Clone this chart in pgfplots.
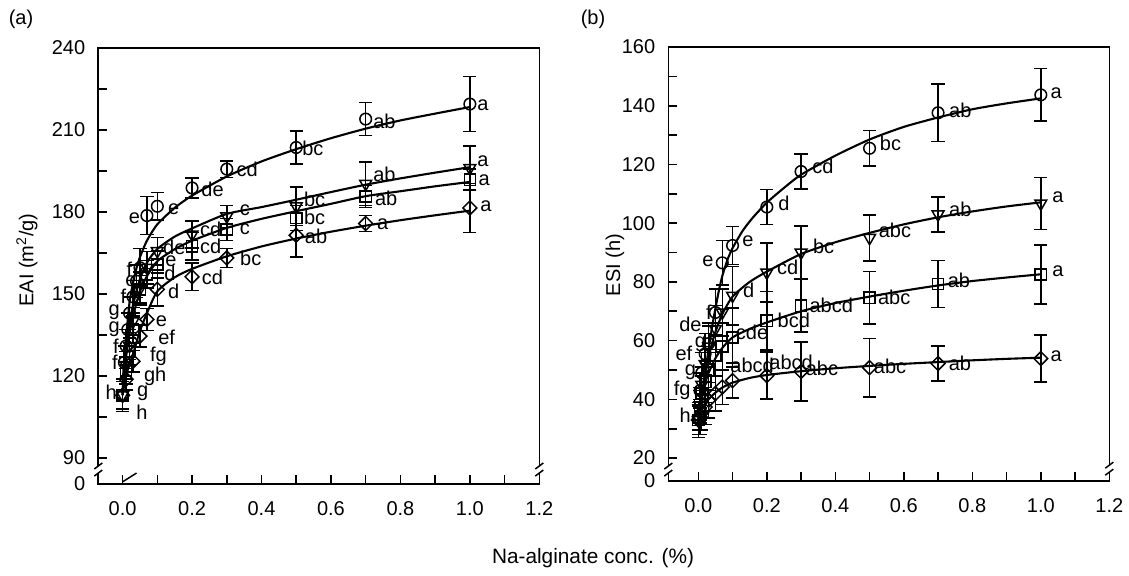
\documentclass[border=0pt]{standalone}
\usepackage{fontspec}
\setmainfont{Liberation Sans}
\usepackage{pgfplots}
\usepackage{pgfplotstable}
\pgfplotsset{compat=1.18}

% ---------------- EAI (a) ----------------
\pgfplotstableread{
x y e
0 113 6
0.005 125 6
0.01 131 6
0.015 137 6
0.02 143 6
0.03 149 6
0.04 154.7 6
0.05 159.6 7
0.07 178.7 7
0.1 182.1 5
0.2 188.8 3.7
0.3 195.7 3
0.5 203.6 6
0.7 214 6
1.0 219.5 10
}\LCirc
\pgfplotstableread{
x y e
0 113 5
0.01 124 5
0.02 131 5
0.03 140 5
0.05 152 6
0.07 159.6 6
0.1 165.7 5
0.2 171.8 5
0.3 178.4 4
0.5 182.1 7
0.7 190.3 8
1.0 196.1 8
}\LTri
\pgfplotstableread{
x y e
0 113 5
0.01 122 5
0.02 129 5
0.03 137 5
0.05 151.7 5
0.07 157.2 5
0.1 160.8 5
0.2 167.5 5
0.3 173.6 4
0.5 177.8 4.5
0.7 185.7 4
1.0 191.8 4
}\LSq
\pgfplotstableread{
x y e
0 113 5
0.01 118.8 4
0.03 125.4 4
0.05 134.6 4
0.07 140.7 4
0.1 151.7 6
0.2 156.3 5
0.3 163.2 3.5
0.5 171.5 8
0.7 175.8 3
1.0 181.5 9
}\LDia
\pgfplotstableread{
x y
0 113
0.002 121
0.005 127
0.01 134
0.02 147
0.03 154
0.04 159.5
0.05 163.5
0.07 169.5
0.1 175.5
0.15 181.5
0.2 186
0.3 193
0.4 198.5
0.5 203
0.6 207
0.7 210.5
0.8 213.5
0.9 216
1.0 218.4
}\LCircFit
\pgfplotstableread{
x y
0 113
0.002 118
0.005 123
0.01 130
0.02 139
0.03 146
0.05 155.5
0.07 161.5
0.1 166.5
0.15 171
0.2 174
0.3 179.3
0.4 181.8
0.5 184.5
0.6 187.3
0.7 190
0.8 192.3
0.9 194.4
1.0 196.4
}\LTriFit
\pgfplotstableread{
x y
0 113
0.002 117
0.005 121.5
0.01 127
0.02 135.5
0.03 142
0.05 151
0.07 156.5
0.1 162
0.15 166.4
0.2 169.5
0.3 174.2
0.4 177.5
0.5 180.3
0.6 183
0.7 185.8
0.8 187.6
0.9 189.4
1.0 191
}\LSqFit
\pgfplotstableread{
x y
0 113
0.002 115
0.005 117
0.01 120
0.02 124.5
0.03 128
0.05 136.5
0.07 143
0.1 151
0.15 156.1
0.2 159.2
0.3 163.8
0.4 167.4
0.5 170.3
0.6 172.8
0.7 175
0.8 177
0.9 178.8
1.0 180.5
}\LDiaFit

% ---------------- ESI (b) ----------------
\pgfplotstableread{
x y e
0 33.5 4
0.005 43 6
0.01 49 7
0.02 55.5 7
0.03 59 7
0.05 69.6 8
0.07 86.5 7.6
0.1 92.4 6.4
0.2 105.5 5.9
0.3 117.6 6
0.5 125.5 6
0.7 137.6 9.8
1.0 143.7 8.9
}\RCirc
\pgfplotstableread{
x y e
0 33 5
0.005 38 5
0.01 45 6
0.02 52 6
0.03 58 7
0.05 64 8
0.07 69.6 8
0.1 75.3 10
0.2 83.2 10
0.3 90 9
0.5 95 7.8
0.7 103 6
1.0 106.7 8.8
}\RTri
\pgfplotstableread{
x y e
0 33 5
0.005 38 6
0.01 42 6
0.02 46 7
0.03 50 7
0.05 55 7
0.07 58 8
0.1 61.1 10
0.2 66.8 10
0.3 71.9 9
0.5 74.6 9
0.7 79.3 8
1.0 82.5 10
}\RSq
\pgfplotstableread{
x y e
0 33 6
0.005 34 6
0.01 35.5 6
0.02 37.4 6
0.03 39.7 6
0.05 42 6
0.07 44.2 6
0.1 46.4 6
0.2 48.1 8
0.3 49.5 10
0.5 50.8 10
0.7 52.2 6
1.0 53.9 8
}\RDia
\pgfplotstableread{
x y
0 33.5
0.005 37.5
0.01 41
0.02 49
0.03 57
0.04 64.5
0.05 71
0.06 77
0.07 82
0.085 87.5
0.1 91.5
0.13 97.5
0.16 102
0.2 107
0.25 112
0.3 116.5
0.4 123
0.5 128.5
0.6 132.8
0.7 136
0.8 138.8
0.9 140.8
1.0 142.5
}\RCircFit
\pgfplotstableread{
x y
0 33
0.006 36.3
0.01 40
0.016 45.5
0.02 48.5
0.03 54.5
0.04 59
0.05 63
0.07 69
0.1 75
0.15 80
0.2 83.5
0.3 89.5
0.4 93.5
0.5 96.7
0.6 99.6
0.7 102
0.8 104
0.9 105.7
1.0 107.1
}\RTriFit
\pgfplotstableread{
x y
0 33
0.005 37
0.01 40.5
0.02 45.5
0.03 49
0.05 54
0.07 57.5
0.1 61.1
0.15 64
0.2 66.2
0.3 70
0.4 72.8
0.5 75
0.6 77
0.7 78.8
0.8 80.3
0.9 81.5
1.0 82.6
}\RSqFit
\pgfplotstableread{
x y
0 33
0.005 34.8
0.01 36.2
0.02 38.3
0.03 40
0.05 42.3
0.07 44
0.1 45.7
0.15 47.3
0.2 48.3
0.3 49.6
0.4 50.6
0.5 51.4
0.6 52.1
0.7 52.7
0.8 53.3
0.9 53.8
1.0 54.2
}\RDiaFit

\pgfplotsset{
  panel/.style={
    scale only axis, width=220.5pt,
    axis line style={line width=0.8pt},
    tick style={black, line width=0.8pt},
    major tick length=4.5pt, minor tick length=4.5pt,
    tick align=inside, xtick pos=left, ytick pos=left,
    xmax=1.2,
    xtick={0,0.2,0.4,0.6,0.8,1.0,1.2},
    minor xtick={0.1,0.3,0.5,0.7,0.9,1.1},
    xticklabel style={/pgf/number format/fixed, /pgf/number format/fixed zerofill,
      /pgf/number format/precision=1, yshift=-5pt},
    yticklabel style={xshift=-3pt},
    /pgf/number format/assume math mode=true,
    extra y tick style={major tick length=0pt},
    clip=false,
  },
  fitline/.style={black, line width=1.05pt, no markers, smooth, tension=0.4},
  pts/.style={black, only marks,
    error bars/y dir=both, error bars/y explicit,
    error bars/error bar style={line width=0.75pt, black},
    error bars/error mark options={black, line width=0.75pt, mark size=3.3pt, rotate=90}},
}
\newcommand{\lb}[3]{\node[inner sep=0pt] at (axis cs:#1,#2) {#3};}
\newcommand{\brk}[3]{% x, y1, y2 (data)
  \fill[white] ([xshift=-1.2pt]axis cs:#1,#2) rectangle ([xshift=1.2pt]axis cs:#1,#3);
  \draw[line width=0.75pt] ([xshift=-2pt,yshift=-1.5pt]axis cs:#1,#2) -- ([xshift=2pt,yshift=1.5pt]axis cs:#1,#2);
  \draw[line width=0.75pt] ([xshift=-2pt,yshift=-1.5pt]axis cs:#1,#3) -- ([xshift=2pt,yshift=1.5pt]axis cs:#1,#3);}

\begin{document}
\fontsize{10}{12}\selectfont
\begin{tikzpicture}
\path[use as bounding box] (0pt,0pt) rectangle (564.5pt,287.5pt);

% ---------- panel (a) ----------
\begin{axis}[panel, at={(49.15pt,45.5pt)}, anchor=south west, height=218pt,
  xmin=-0.07, ymin=80.5, ymax=240,
  ytick={90,120,150,180,210,240}, minor ytick={105,135,165,195,225},
  extra y ticks={80.5}, extra y tick labels={0}]
\addplot[fitline] table[x=x,y=y] {\LCircFit};
\addplot[fitline] table[x=x,y=y] {\LTriFit};
\addplot[fitline] table[x=x,y=y] {\LSqFit};
\addplot[fitline] table[x=x,y=y] {\LDiaFit};
\addplot[pts, mark=o, mark size=2.9pt, mark options={line width=0.75pt}] table[x=x,y=y,y error=e] {\LCirc};
\addplot[pts, mark=triangle, mark size=3.4pt, mark options={line width=0.75pt, rotate=180}] table[x=x,y=y,y error=e] {\LTri};
\addplot[pts, mark=square, mark size=2.8pt, mark options={line width=0.75pt}] table[x=x,y=y,y error=e] {\LSq};
\addplot[pts, mark=square, mark size=2.45pt, mark options={line width=0.75pt, rotate=45}] table[x=x,y=y,y error=e] {\LDia};
\lb{1.038}{219.2}{a}\lb{0.754}{213.1}{ab}\lb{0.548}{203.4}{bc}\lb{0.359}{195.5}{cd}\lb{0.259}{188.2}{de}
\lb{1.038}{198.5}{a}\lb{1.041}{191.6}{a}\lb{1.046}{182.1}{a}
\lb{0.754}{193.6}{ab}\lb{0.759}{185.1}{ab}\lb{0.749}{175.4}{a}
\lb{0.553}{184.5}{bc}\lb{0.553}{178.1}{bc}\lb{0.557}{171.1}{ab}
\lb{0.352}{180.6}{c}\lb{0.352}{173.6}{c}\lb{0.369}{162.9}{bc}
\lb{0.254}{173.6}{cd}\lb{0.254}{167.5}{cd}\lb{0.259}{156}{cd}
\lb{0.149}{166.9}{de}\lb{0.139}{162}{e}\lb{0.136}{157.5}{d}\lb{0.147}{151.1}{d}
\lb{0.112}{140.1}{e}\lb{0.127}{134}{ef}\lb{0.103}{127.3}{fg}\lb{0.094}{120}{gh}
\lb{0.058}{113.7}{g}\lb{0.056}{106.7}{h}
\lb{0.034}{177.8}{e}\lb{0.147}{180.9}{e}\lb{0.0195}{159}{f}\lb{0.024}{154.7}{e}
\lb{0.002}{149}{f}\lb{-0.024}{143.2}{g}\lb{-0.024}{137.1}{g}\lb{-0.019}{131}{f}
\lb{-0.022}{124.9}{f}\lb{-0.033}{114}{h}
\brk{-0.07}{84.5}{87.1}
\brk{1.2}{84.5}{87.1}
\draw[line width=0.75pt] (axis cs:0,81.3) -- (axis cs:0.04,84.5);
\end{axis}

% ---------- panel (b) ----------
\begin{axis}[panel, at={(334.15pt,47pt)}, anchor=south west, height=217pt,
  xmin=-0.0876, ymin=12.2, ymax=160,
  ytick={20,40,60,80,100,120,140,160}, minor ytick={30,50,70,90,110,130,150},
  extra y ticks={12.2}, extra y tick labels={0}]
\addplot[fitline] table[x=x,y=y] {\RCircFit};
\addplot[fitline] table[x=x,y=y] {\RTriFit};
\addplot[fitline] table[x=x,y=y] {\RSqFit};
\addplot[fitline] table[x=x,y=y] {\RDiaFit};
\addplot[pts, mark=o, mark size=2.9pt, mark options={line width=0.75pt}] table[x=x,y=y,y error=e] {\RCirc};
\addplot[pts, mark=triangle, mark size=3.4pt, mark options={line width=0.75pt, rotate=180}] table[x=x,y=y,y error=e] {\RTri};
\addplot[pts, mark=square, mark size=2.8pt, mark options={line width=0.75pt}] table[x=x,y=y,y error=e] {\RSq};
\addplot[pts, mark=square, mark size=2.45pt, mark options={line width=0.75pt, rotate=45}] table[x=x,y=y,y error=e] {\RDia};
\lb{1.045}{144.2}{a}\lb{0.765}{138.5}{ab}\lb{0.561}{127.2}{bc}\lb{0.364}{119.3}{cd}
\lb{0.25}{106.9}{d}\lb{0.145}{93.9}{e}\lb{0.028}{86.9}{e}
\lb{1.05}{108.8}{a}\lb{0.765}{104.6}{ab}\lb{0.574}{97.5}{abc}\lb{0.366}{92.2}{bc}
\lb{0.261}{85.1}{cd}\lb{0.147}{77}{d}
\lb{1.05}{83.5}{a}\lb{0.761}{80.7}{ab}\lb{0.572}{74.6}{abc}\lb{0.388}{71.9}{abcd}
\lb{0.279}{66.8}{bcd}\lb{0.157}{62.9}{cde}
\lb{0.157}{51.5}{abcd}\lb{0.271}{52.7}{abcd}\lb{0.361}{50.5}{abc}\lb{0.56}{51.2}{abc}
\lb{0.764}{52.2}{ab}\lb{1.045}{54.6}{a}
\lb{0.031}{69.6}{f}\lb{-0.023}{65.7}{de}\lb{0.006}{58.9}{g}\lb{-0.042}{55.5}{ef}
\lb{-0.023}{49.3}{g}\lb{-0.047}{43.1}{fg}\lb{-0.038}{34.6}{h}
\brk{-0.0876}{14.9}{17.3}
\brk{1.2}{15.2}{17.6}
\end{axis}

\node at (10.5pt,278pt) {(a)};
\node at (296.5pt,278pt) {(b)};
\node[rotate=90] at (13.5pt,157.5pt) {EAI (m\textsuperscript{2}/g)};
\node[rotate=90] at (307.5pt,155pt) {ESI (h)};
\node[font=\fontsize{10.4}{12}\selectfont] at (296.5pt,8.5pt) {Na-alginate conc. (\%)};
\end{tikzpicture}
\end{document}
